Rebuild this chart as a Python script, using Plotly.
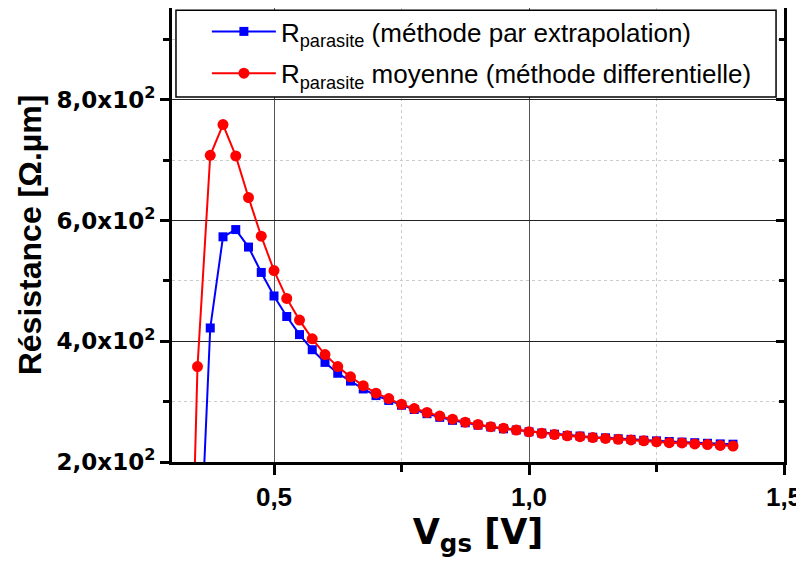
import plotly.graph_objects as go

# ---- data ----
vgs_extrapolation = [0.35, 0.375, 0.4, 0.425, 0.45, 0.475, 0.5, 0.525, 0.55, 0.575, 0.6, 0.625, 0.65,
                     0.675, 0.7, 0.725, 0.75, 0.775, 0.8, 0.825, 0.85, 0.875, 0.9, 0.925, 0.95, 0.975,
                     1.0, 1.025, 1.05, 1.075, 1.1, 1.125, 1.15, 1.175, 1.2, 1.225, 1.25, 1.275, 1.3,
                     1.325, 1.35, 1.375, 1.4]
r_extrapolation = [-60, 422, 573, 585, 556, 514, 475, 441, 411, 386, 365, 347, 334,
                   321, 310, 302, 294, 287, 280, 274, 269, 265, 261, 258, 255, 253,
                   250, 248, 246, 244, 243, 241, 240, 238.5, 237.5, 236, 235, 234, 233,
                   232, 231, 230, 229.5]

vgs_differentielle = [0.325, 0.35, 0.375, 0.4, 0.425, 0.45, 0.475, 0.5, 0.525, 0.55, 0.575, 0.6, 0.625,
                      0.65, 0.675, 0.7, 0.725, 0.75, 0.775, 0.8, 0.825, 0.85, 0.875, 0.9, 0.925, 0.95,
                      0.975, 1.0, 1.025, 1.05, 1.075, 1.1, 1.125, 1.15, 1.175, 1.2, 1.225, 1.25, 1.275,
                      1.3, 1.325, 1.35, 1.375, 1.4]
r_differentielle = [-430, 358, 708, 759, 707, 638, 574, 517, 471, 435, 404, 378, 358,
                    341, 326.5, 314, 305, 295.5, 288.5, 282, 276, 271, 266, 262, 258.5, 256,
                    253, 250, 247.5, 245.5, 243.5, 242, 240.5, 239, 237.5, 236.5, 235, 233.5, 232,
                    231.5, 230, 229, 227.5, 226.5]

series_names = ["R<sub>parasite</sub> (méthode par extrapolation)",
                "R<sub>parasite</sub> moyenne (méthode differentielle)"]

x_tick_vals = [0.5, 1.0, 1.5]
x_tick_text = ["0,5", "1,0", "1,5"]
x_minor_vals = [0.75, 1.25]
y_tick_vals = [200, 400, 600, 800]
y_tick_text = ["2,0x10<sup>2</sup>", "4,0x10<sup>2</sup>", "6,0x10<sup>2</sup>", "8,0x10<sup>2</sup>"]
y_minor_vals = [300, 500, 700, 900]

X_RANGE = [0.3, 1.5]
Y_RANGE = [200, 952]

FONT = "Liberation Sans"
WIDE = "DejaVu Sans"

fig = go.Figure()
fig.add_trace(go.Scatter(
    x=vgs_extrapolation, y=r_extrapolation, name=series_names[0], mode="lines+markers",
    legendgroup="a",
    line=dict(color="#0000FF", width=2),
    marker=dict(symbol="square", size=9, color="#0000FF"),
))
fig.add_trace(go.Scatter(
    x=vgs_differentielle, y=r_differentielle, name=series_names[1], mode="lines+markers",
    legendgroup="b",
    line=dict(color="#FF0000", width=2),
    marker=dict(symbol="circle", size=11, color="#FF0000"),
))
# empty trace so the right-hand mirror axis (inward ticks) is drawn
fig.add_trace(go.Scatter(x=[], y=[], yaxis="y2", showlegend=False, hoverinfo="skip"))

fig.update_layout(
    width=796, height=553,
    margin=dict(l=164, r=20, t=0, b=99),
    plot_bgcolor="white", paper_bgcolor="white",
    font=dict(family=FONT, color="black"),
    showlegend=True,
    legend=dict(
        x=0.057, y=1.0, xanchor="left", yanchor="top",
        bgcolor="rgba(0,0,0,0)", borderwidth=0,
        font=dict(family=FONT, size=26, color="black"),
        itemwidth=64, traceorder="grouped", tracegroupgap=5,
    ),
    xaxis=dict(
        range=X_RANGE, tickmode="array", tickvals=x_tick_vals, ticktext=x_tick_text,
        ticks="outside", ticklen=10, tickwidth=3, tickcolor="black",
        showline=True, linewidth=3, linecolor="black", mirror=True,
        showgrid=True, gridcolor="#555555", gridwidth=1,
        zeroline=False,
        tickfont=dict(family=FONT, size=26, color="black", weight="bold"),
        minor=dict(tickmode="array", tickvals=x_minor_vals, ticks="outside", ticklen=7,
                   tickwidth=3, tickcolor="black", showgrid=True, gridcolor="#cccccc",
                   griddash="dot", gridwidth=1),
        title=dict(text="V<sub>gs</sub> [V]", standoff=8,
                   font=dict(family=WIDE, size=35, color="black", weight="bold")),
        automargin=False,
    ),
    yaxis=dict(
        range=Y_RANGE, tickmode="array", tickvals=y_tick_vals, ticktext=y_tick_text,
        ticks="outside", ticklen=9, tickwidth=3, tickcolor="black",
        showline=True, linewidth=3, linecolor="black", mirror=True,
        showgrid=True, gridcolor="#222222", gridwidth=1,
        zeroline=False,
        tickfont=dict(family=WIDE, size=23, color="black", weight="bold"),
        minor=dict(tickmode="array", tickvals=y_minor_vals, ticks="outside", ticklen=6,
                   tickwidth=3, tickcolor="black", showgrid=True, gridcolor="#cccccc",
                   griddash="dot", gridwidth=1),
        title=dict(text="Résistance [Ω.µm]", standoff=6,
                   font=dict(family=FONT, size=32, color="black", weight="bold")),
        automargin=False,
    ),
    yaxis2=dict(
        range=Y_RANGE, overlaying="y", side="right", tickmode="array", tickvals=y_tick_vals,
        showticklabels=False, ticks="inside", ticklen=8, tickwidth=3, tickcolor="black",
        showgrid=False, zeroline=False, showline=False,
        minor=dict(tickmode="array", tickvals=y_minor_vals, ticks="inside", ticklen=5,
                   tickwidth=3, tickcolor="black", showgrid=False),
    ),
    shapes=[dict(
        type="rect", xref="paper", yref="paper", layer="above",
        x0=0.0065, x1=0.987, y0=0.804, y1=0.995,
        fillcolor="white", line=dict(color="black", width=1.5),
    )],
)

fig.write_html("out.html")
